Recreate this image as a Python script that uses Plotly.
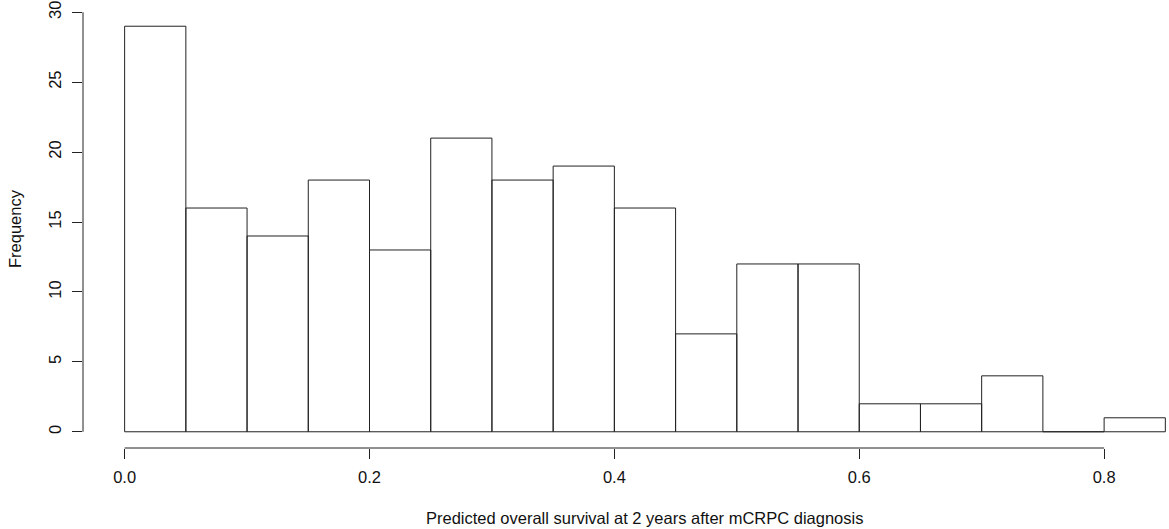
import plotly.graph_objects as go

# Histogram data (R hist output)
breaks = [0.0, 0.05, 0.10, 0.15, 0.20, 0.25, 0.30, 0.35, 0.40, 0.45, 0.50,
          0.55, 0.60, 0.65, 0.70, 0.75, 0.80, 0.85]
counts = [29, 16, 14, 18, 13, 21, 18, 19, 16, 7, 12, 12, 2, 2, 4, 0, 1]
x_ticks = [0.0, 0.2, 0.4, 0.6, 0.8]
x_ticklabels = ["0.0", "0.2", "0.4", "0.6", "0.8"]
y_ticks = [0, 5, 10, 15, 20, 25, 30]
x_title = "Predicted overall survival at 2 years after mCRPC diagnosis"
y_title = "Frequency"

FONT = "Liberation Sans, Arial, sans-serif"
FS = 16.5
LINE = "#222222"

# Build rectangle outlines from the bins
xs, ys = [], []
for i, c in enumerate(counts):
    x0, x1 = breaks[i], breaks[i + 1]
    xs += [x0, x0, x1, x1, x0, None]
    ys += [0, c, c, 0, 0, None]

fig = go.Figure()
fig.add_trace(go.Scatter(x=xs, y=ys, mode="lines",
                         line=dict(color=LINE, width=1),
                         fill="toself", fillcolor="white",
                         hoverinfo="skip", showlegend=False))

xr = breaks[-1] - breaks[0]
xlo = breaks[0] - 0.04 * xr
xhi_full = breaks[-1] + 0.04 * xr
ymax = max(counts)
ylo = -0.04 * ymax
yhi = ymax + 0.04 * ymax

fig.update_layout(
    width=1169, height=529,
    margin=dict(l=83.4, r=0, t=9.8, b=80.8, autoexpand=False),
    plot_bgcolor="white", paper_bgcolor="white",
    font=dict(family=FONT, size=FS, color="#111111"),
    xaxis=dict(range=[xlo, 0.853], showgrid=False, zeroline=False,
               showline=False, tickmode="array", tickvals=x_ticks,
               ticktext=x_ticklabels, ticks="outside", ticklen=10,
               tickcolor=LINE, tickwidth=1, ticklabelstandoff=4,
               ticklabeloverflow="allow", automargin=False),
    yaxis=dict(range=[ylo, yhi], showgrid=False, zeroline=False,
               showline=False, tickmode="array", tickvals=y_ticks,
               ticks="outside", ticklen=10, tickcolor=LINE, tickwidth=1,
               tickangle=-90, ticklabelstandoff=4,
               ticklabeloverflow="allow", automargin=False),
    shapes=[
        dict(type="line", xref="x", yref="paper", x0=x_ticks[0], x1=x_ticks[-1],
             y0=0, y1=0, line=dict(color=LINE, width=1)),
        dict(type="line", xref="paper", yref="y", x0=0, x1=0,
             y0=y_ticks[0], y1=y_ticks[-1], line=dict(color=LINE, width=1)),
    ],
    annotations=[
        dict(text=x_title, xref="x", yref="paper", x=(xlo + xhi_full) / 2,
             y=0, yshift=-70, showarrow=False, xanchor="center", yanchor="middle",
             font=dict(family=FONT, size=FS)),
        dict(text=y_title, xref="paper", yref="y", x=0, xshift=-68,
             y=(ylo + yhi) / 2, showarrow=False, textangle=-90,
             xanchor="center", yanchor="middle", font=dict(family=FONT, size=FS)),
    ],
)

# remove the default 8px body margin so the figure fills the window exactly
fig.write_html("out.html", config={"displayModeBar": False},
               post_script="document.body.style.margin='0';")
